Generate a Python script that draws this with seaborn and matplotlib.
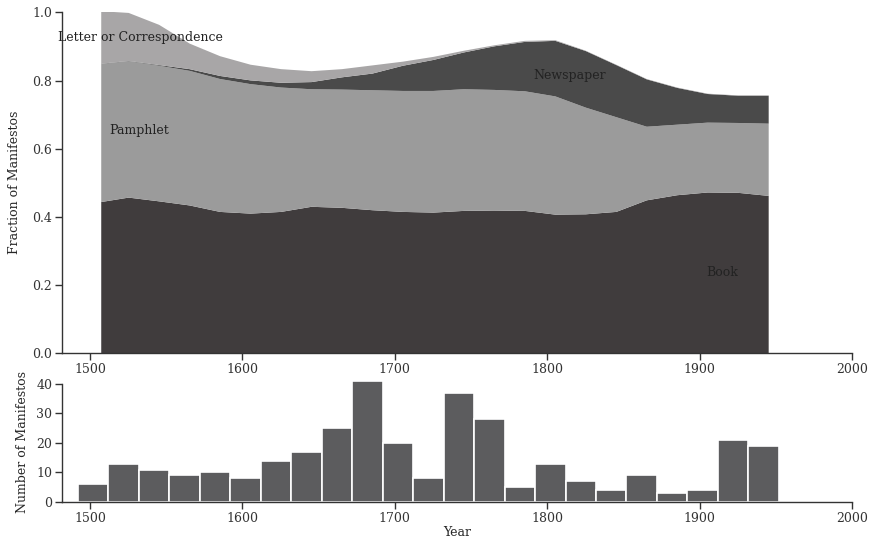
import numpy as np
import pandas as pd
import matplotlib
matplotlib.use("Agg")
import matplotlib.pyplot as plt
import seaborn as sns

# Fraction of manifestos by medium (layer thickness)
years = [1507, 1525, 1545, 1565, 1585, 1605, 1625, 1645, 1665, 1685, 1705, 1725,
         1745, 1765, 1785, 1805, 1825, 1845, 1865, 1885, 1905, 1925, 1945]
book = [0.445, 0.458, 0.447, 0.435, 0.416, 0.411, 0.416, 0.431, 0.428, 0.421, 0.416, 0.414,
        0.419, 0.420, 0.419, 0.408, 0.409, 0.416, 0.450, 0.465, 0.473, 0.472, 0.463]
pamphlet = [0.405, 0.400, 0.398, 0.395, 0.390, 0.380, 0.365, 0.345, 0.347, 0.352, 0.355, 0.357,
            0.357, 0.354, 0.351, 0.347, 0.313, 0.278, 0.216, 0.207, 0.205, 0.205, 0.212]
newspaper = [0.001, 0.001, 0.002, 0.005, 0.009, 0.011, 0.014, 0.021, 0.036, 0.049, 0.074, 0.091,
             0.108, 0.128, 0.145, 0.163, 0.166, 0.153, 0.139, 0.108, 0.084, 0.080, 0.082]
letter = [0.154, 0.141, 0.118, 0.075, 0.058, 0.046, 0.040, 0.032, 0.024, 0.024, 0.012, 0.009,
          0.005, 0.003, 0.003, 0.002, 0.001, 0.001, 0.001, 0.001, 0.001, 0.001, 0.001]

# Number of manifestos per 20-year bin
bin_starts = [1492, 1512, 1532, 1552, 1572, 1592, 1612, 1632, 1652, 1672, 1692, 1712,
              1732, 1752, 1772, 1792, 1812, 1832, 1852, 1872, 1892, 1912, 1932]
counts = [6, 13, 11, 9, 10, 8, 14, 17, 25, 41, 20, 8,
          37, 28, 5, 13, 7, 4, 9, 3, 4, 21, 19]

sns.set_style("ticks")
plt.rcParams['font.family'] = ['DejaVu Serif']
plt.rcParams['font.size'] = 9
plt.rcParams['axes.edgecolor'] = '#333333'
plt.rcParams['xtick.color'] = '#333333'
plt.rcParams['ytick.color'] = '#333333'
plt.rcParams['text.color'] = '#222222'

fig = plt.figure(figsize=(8.7, 5.4), dpi=100)
ax1 = fig.add_axes([0.0713, 0.346, 0.908, 0.631])
ax2 = fig.add_axes([0.0713, 0.0704, 0.908, 0.224])

xmin, xmax = 1481.6, 2000

# stacked area
ax1.stackplot(years, book, pamphlet, newspaper, letter,
              colors=['#403c3d', '#9b9b9b', '#4a4a4a', '#a8a6a7'], linewidth=0)
ax1.set_xlim(xmin, xmax)
ax1.set_ylim(0, 1)
ax1.set_yticks([0, 0.2, 0.4, 0.6, 0.8, 1.0])
ax1.set_yticklabels(['0.0', '0.2', '0.4', '0.6', '0.8', '1.0'])
ax1.set_xticks([1500, 1600, 1700, 1800, 1900, 2000])
ax1.set_ylabel("Fraction of Manifestos", labelpad=8)
ax1.text(1533, 0.927, "Letter or Correspondence", ha='center', va='center')
ax1.text(1532, 0.654, "Pamphlet", ha='center', va='center')
ax1.text(1815, 0.815, "Newspaper", ha='center', va='center')
ax1.text(1915, 0.238, "Book", ha='center', va='center')

# histogram of counts
df = pd.DataFrame({"year": np.array(bin_starts) + 10, "n": counts})
edges = bin_starts + [bin_starts[-1] + 20]
sns.histplot(data=df, x="year", weights="n", bins=edges, ax=ax2,
             color='#5c5c5e', alpha=1, edgecolor='white', linewidth=1.2)
ax2.set_xlim(xmin, xmax)
ax2.set_ylim(0, 41)
ax2.set_yticks([0, 10, 20, 30, 40])
ax2.spines['left'].set_bounds(0, 40)
ax2.set_xticks([1500, 1600, 1700, 1800, 1900, 2000])
ax2.set_ylabel("Number of Manifestos", labelpad=5)
ax2.set_xlabel("Year", labelpad=1)

for ax in (ax1, ax2):
    sns.despine(ax=ax)
    ax.tick_params(direction='out', length=5, width=1, labelsize=9, pad=2)
    ax.spines['left'].set_linewidth(1)
    ax.spines['bottom'].set_linewidth(1)

fig.savefig("out.png", dpi=100)
